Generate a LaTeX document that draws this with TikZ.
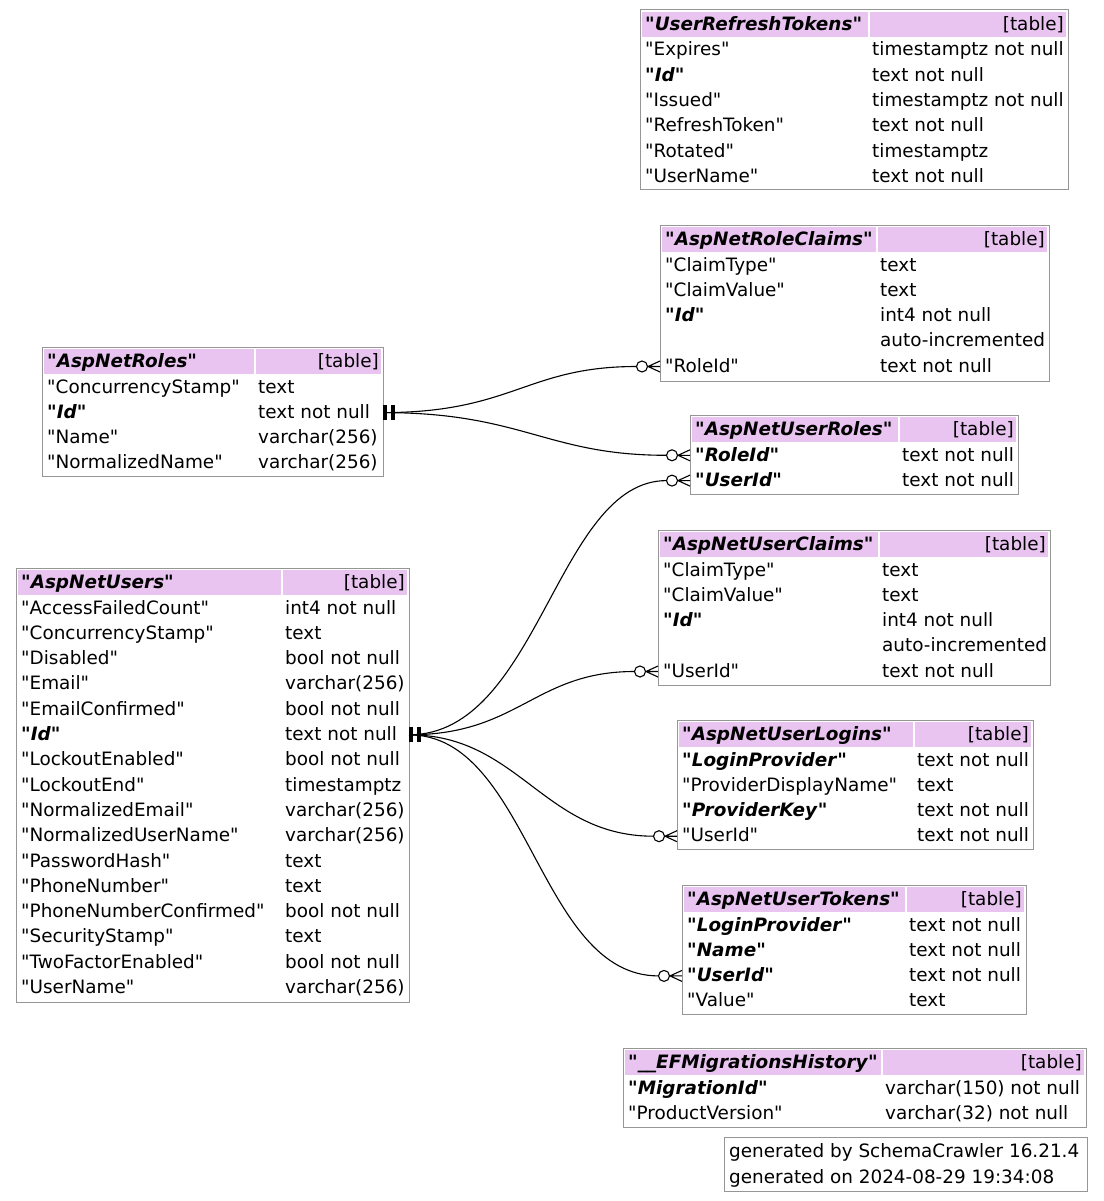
\documentclass[tikz,border=0pt]{standalone}
\usepackage{fontspec}
\setmainfont{DejaVu Sans}[Ligatures=TeXOff]
\definecolor{headfill}{RGB}{233,196,240}
\definecolor{tableline}{RGB}{150,150,150}
\newcommand{\tname}[1]{\textbf{"\textit{#1}"}}
\tikzset{
  colname/.style={anchor=base west, inner sep=0pt, yshift=-1pt},
  coltype/.style={anchor=base west, inner sep=0pt, yshift=-1pt},
  tabletag/.style={anchor=base east, inner sep=0pt, yshift=-1pt},
  tablebox/.style={draw=tableline, line width=1pt},
  linkline/.style={line width=1.1pt},
  onemark/.pic={
    \fill (0,-7.5) rectangle (4,7.5);
    \fill (8,-7.5) rectangle (12,7.5);
  },
  manymark/.pic={
    \draw[linkline] (-12,0) -- (0,-5.5) (-12,0) -- (0,0) (-12,0) -- (0,5.5);
    \draw[linkline, fill=white] (-18,0) circle[radius=5.5pt];
  }
}
\begin{document}
\begin{tikzpicture}[x=1pt,y=-1pt,font=\fontsize{18.4}{22}\selectfont]
    \useasboundingbox (0,0) rectangle (1103,1201);

    % UserRefreshTokens
    \fill[headfill] (642,12) rectangle (868,37);
    \fill[headfill] (870,12) rectangle (1066,37);
    \draw[tablebox] (640,10) rectangle (1068,190);
    \node[colname] (urt-title) at (645,29.7) {\tname{UserRefreshTokens}};
    \node[tabletag] (urt-tag) at (1064,29.7) {[table]};
    \node[colname] (urt-expires) at (645,55) {"Expires"};
    \node[coltype] (urt-expires-t) at (872,55) {timestamptz not null};
    \node[colname] (urt-id) at (645,80.3) {\tname{Id}};
    \node[coltype] (urt-id-t) at (872,80.3) {text not null};
    \node[colname] (urt-issued) at (645,105.6) {"Issued"};
    \node[coltype] (urt-issued-t) at (872,105.6) {timestamptz not null};
    \node[colname] (urt-token) at (645,130.9) {"RefreshToken"};
    \node[coltype] (urt-token-t) at (872,130.9) {text not null};
    \node[colname] (urt-rotated) at (645,156.2) {"Rotated"};
    \node[coltype] (urt-rotated-t) at (872,156.2) {timestamptz};
    \node[colname] (urt-user) at (645,181.5) {"UserName"};
    \node[coltype] (urt-user-t) at (872,181.5) {text not null};

    % AspNetRoleClaims
    \fill[headfill] (662,227) rectangle (876,252);
    \fill[headfill] (878,227) rectangle (1047,252);
    \draw[tablebox] (660,225) rectangle (1049,381);
    \node[colname] (arc-title) at (665,244.7) {\tname{AspNetRoleClaims}};
    \node[tabletag] (arc-tag) at (1045,244.7) {[table]};
    \node[colname] (arc-type) at (665,270) {"ClaimType"};
    \node[coltype] (arc-type-t) at (880,270) {text};
    \node[colname] (arc-value) at (665,295.3) {"ClaimValue"};
    \node[coltype] (arc-value-t) at (880,295.3) {text};
    \node[colname] (arc-id) at (665,320.6) {\tname{Id}};
    \node[coltype] (arc-id-t) at (880,320.6) {int4 not null};
    \node[coltype] (arc-id-auto) at (880,345.9) {auto-incremented};
    \node[colname] (arc-roleid) at (665,371.2) {"RoleId"};
    \node[coltype] (arc-roleid-t) at (880,371.2) {text not null};

    % AspNetRoles
    \fill[headfill] (44,349) rectangle (254,374);
    \fill[headfill] (256,349) rectangle (381,374);
    \draw[tablebox] (42,347) rectangle (383,476);
    \node[colname] (ar-title) at (47,366.7) {\tname{AspNetRoles}};
    \node[tabletag] (ar-tag) at (379,366.7) {[table]};
    \node[colname] (ar-stamp) at (47,392) {"ConcurrencyStamp"};
    \node[coltype] (ar-stamp-t) at (258,392) {text};
    \node[colname] (ar-id) at (47,417.3) {\tname{Id}};
    \node[coltype] (ar-id-t) at (258,417.3) {text not null};
    \node[colname] (ar-name) at (47,442.6) {"Name"};
    \node[coltype] (ar-name-t) at (258,442.6) {varchar(256)};
    \node[colname] (ar-norm) at (47,467.9) {"NormalizedName"};
    \node[coltype] (ar-norm-t) at (258,467.9) {varchar(256)};

    % AspNetUserRoles
    \fill[headfill] (692,417) rectangle (898,442);
    \fill[headfill] (900,417) rectangle (1016,442);
    \draw[tablebox] (690,415) rectangle (1018,494);
    \node[colname] (aur-title) at (695,434.7) {\tname{AspNetUserRoles}};
    \node[tabletag] (aur-tag) at (1014,434.7) {[table]};
    \node[colname] (aur-roleid) at (695,460) {\tname{RoleId}};
    \node[coltype] (aur-roleid-t) at (902,460) {text not null};
    \node[colname] (aur-userid) at (695,485.3) {\tname{UserId}};
    \node[coltype] (aur-userid-t) at (902,485.3) {text not null};

    % AspNetUserClaims
    \fill[headfill] (660,532) rectangle (878,557);
    \fill[headfill] (880,532) rectangle (1048,557);
    \draw[tablebox] (658,530) rectangle (1050,685);
    \node[colname] (auc-title) at (663,549.7) {\tname{AspNetUserClaims}};
    \node[tabletag] (auc-tag) at (1046,549.7) {[table]};
    \node[colname] (auc-type) at (663,575) {"ClaimType"};
    \node[coltype] (auc-type-t) at (882,575) {text};
    \node[colname] (auc-value) at (663,600.3) {"ClaimValue"};
    \node[coltype] (auc-value-t) at (882,600.3) {text};
    \node[colname] (auc-id) at (663,625.6) {\tname{Id}};
    \node[coltype] (auc-id-t) at (882,625.6) {int4 not null};
    \node[coltype] (auc-id-auto) at (882,650.9) {auto-incremented};
    \node[colname] (auc-userid) at (663,676.2) {"UserId"};
    \node[coltype] (auc-userid-t) at (882,676.2) {text not null};

    % AspNetUserLogins
    \fill[headfill] (679,722) rectangle (913,747);
    \fill[headfill] (915,722) rectangle (1031,747);
    \draw[tablebox] (677,720) rectangle (1033,849);
    \node[colname] (aul-title) at (682,739.7) {\tname{AspNetUserLogins}};
    \node[tabletag] (aul-tag) at (1029,739.7) {[table]};
    \node[colname] (aul-provider) at (682,765) {\tname{LoginProvider}};
    \node[coltype] (aul-provider-t) at (917,765) {text not null};
    \node[colname] (aul-display) at (682,790.3) {"ProviderDisplayName"};
    \node[coltype] (aul-display-t) at (917,790.3) {text};
    \node[colname] (aul-key) at (682,815.6) {\tname{ProviderKey}};
    \node[coltype] (aul-key-t) at (917,815.6) {text not null};
    \node[colname] (aul-userid) at (682,840.9) {"UserId"};
    \node[coltype] (aul-userid-t) at (917,840.9) {text not null};

    % AspNetUserTokens
    \fill[headfill] (684,887) rectangle (905,912);
    \fill[headfill] (907,887) rectangle (1024,912);
    \draw[tablebox] (682,885) rectangle (1026,1014);
    \node[colname] (aut-title) at (687,904.7) {\tname{AspNetUserTokens}};
    \node[tabletag] (aut-tag) at (1022,904.7) {[table]};
    \node[colname] (aut-provider) at (687,930) {\tname{LoginProvider}};
    \node[coltype] (aut-provider-t) at (909,930) {text not null};
    \node[colname] (aut-name) at (687,955.3) {\tname{Name}};
    \node[coltype] (aut-name-t) at (909,955.3) {text not null};
    \node[colname] (aut-userid) at (687,980.6) {\tname{UserId}};
    \node[coltype] (aut-userid-t) at (909,980.6) {text not null};
    \node[colname] (aut-value) at (687,1005.9) {"Value"};
    \node[coltype] (aut-value-t) at (909,1005.9) {text};

    % AspNetUsers
    \fill[headfill] (18,570) rectangle (281,595);
    \fill[headfill] (283,570) rectangle (407,595);
    \draw[tablebox] (16,568) rectangle (409,1002);
    \node[colname] (au-title) at (21,587.7) {\tname{AspNetUsers}};
    \node[tabletag] (au-tag) at (405,587.7) {[table]};
    \node[colname] (au-failed) at (21,613) {"AccessFailedCount"};
    \node[coltype] (au-failed-t) at (285,613) {int4 not null};
    \node[colname] (au-stamp) at (21,638.3) {"ConcurrencyStamp"};
    \node[coltype] (au-stamp-t) at (285,638.3) {text};
    \node[colname] (au-disabled) at (21,663.6) {"Disabled"};
    \node[coltype] (au-disabled-t) at (285,663.6) {bool not null};
    \node[colname] (au-email) at (21,688.9) {"Email"};
    \node[coltype] (au-email-t) at (285,688.9) {varchar(256)};
    \node[colname] (au-confirmed) at (21,714.2) {"EmailConfirmed"};
    \node[coltype] (au-confirmed-t) at (285,714.2) {bool not null};
    \node[colname] (au-id) at (21,739.5) {\tname{Id}};
    \node[coltype] (au-id-t) at (285,739.5) {text not null};
    \node[colname] (au-lockout) at (21,764.8) {"LockoutEnabled"};
    \node[coltype] (au-lockout-t) at (285,764.8) {bool not null};
    \node[colname] (au-lockend) at (21,790.1) {"LockoutEnd"};
    \node[coltype] (au-lockend-t) at (285,790.1) {timestamptz};
    \node[colname] (au-normmail) at (21,815.4) {"NormalizedEmail"};
    \node[coltype] (au-normmail-t) at (285,815.4) {varchar(256)};
    \node[colname] (au-normuser) at (21,840.7) {"NormalizedUserName"};
    \node[coltype] (au-normuser-t) at (285,840.7) {varchar(256)};
    \node[colname] (au-hash) at (21,866) {"PasswordHash"};
    \node[coltype] (au-hash-t) at (285,866) {text};
    \node[colname] (au-phone) at (21,891.3) {"PhoneNumber"};
    \node[coltype] (au-phone-t) at (285,891.3) {text};
    \node[colname] (au-phoneok) at (21,916.6) {"PhoneNumberConfirmed"};
    \node[coltype] (au-phoneok-t) at (285,916.6) {bool not null};
    \node[colname] (au-security) at (21,941.9) {"SecurityStamp"};
    \node[coltype] (au-security-t) at (285,941.9) {text};
    \node[colname] (au-twofactor) at (21,967.2) {"TwoFactorEnabled"};
    \node[coltype] (au-twofactor-t) at (285,967.2) {bool not null};
    \node[colname] (au-username) at (21,992.5) {"UserName"};
    \node[coltype] (au-username-t) at (285,992.5) {varchar(256)};

    % __EFMigrationsHistory
    \fill[headfill] (625,1050) rectangle (881,1075);
    \fill[headfill] (883,1050) rectangle (1084,1075);
    \draw[tablebox] (623,1048) rectangle (1086,1127);
    \node[colname] (ef-title) at (628,1067.7) {\tname{\_\_EFMigrationsHistory}};
    \node[tabletag] (ef-tag) at (1082,1067.7) {[table]};
    \node[colname] (ef-migration) at (628,1093) {\tname{MigrationId}};
    \node[coltype] (ef-migration-t) at (885,1093) {varchar(150) not null};
    \node[colname] (ef-version) at (628,1118.3) {"ProductVersion"};
    \node[coltype] (ef-version-t) at (885,1118.3) {varchar(32) not null};

    % footer
    \draw[tablebox] (724,1137) rectangle (1087,1191);
    \node[colname] (gen-by) at (729,1156.7) {generated by SchemaCrawler 16.21.4};
    \node[colname] (gen-on) at (729,1182) {generated on 2024-08-29 19:34:08};

    % ports
    \coordinate (ar-id-port) at (383,412.6);
    \coordinate (arc-roleid-port) at (660,366.5);
    \coordinate (aur-roleid-port) at (690,455.3);
    \coordinate (aur-userid-port) at (690,480.6);
    \coordinate (au-id-port) at (409,734.8);
    \coordinate (auc-userid-port) at (658,671.5);
    \coordinate (aul-userid-port) at (677,836.2);
    \coordinate (aut-userid-port) at (682,975.9);

    \pic at (ar-id-port) {onemark};
    \pic at (au-id-port) {onemark};

    \draw[linkline] (ar-id-port) .. controls +(130,0) and +(-110,0) .. ([xshift=-23.5pt]arc-roleid-port);
    \draw[linkline] (ar-id-port) .. controls +(140,0) and +(-120,0) .. ([xshift=-23.5pt]aur-roleid-port);
    \draw[linkline] (au-id-port) .. controls +(130,0) and +(-110,0) .. ([xshift=-23.5pt]aur-userid-port);
    \draw[linkline] (au-id-port) .. controls +(110,0) and +(-100,0) .. ([xshift=-23.5pt]auc-userid-port);
    \draw[linkline] (au-id-port) .. controls +(110,0) and +(-110,0) .. ([xshift=-23.5pt]aul-userid-port);
    \draw[linkline] (au-id-port) .. controls +(120,0) and +(-120,0) .. ([xshift=-23.5pt]aut-userid-port);

    \pic at (arc-roleid-port) {manymark};
    \pic at (aur-roleid-port) {manymark};
    \pic at (aur-userid-port) {manymark};
    \pic at (auc-userid-port) {manymark};
    \pic at (aul-userid-port) {manymark};
    \pic at (aut-userid-port) {manymark};
\end{tikzpicture}
\end{document}
